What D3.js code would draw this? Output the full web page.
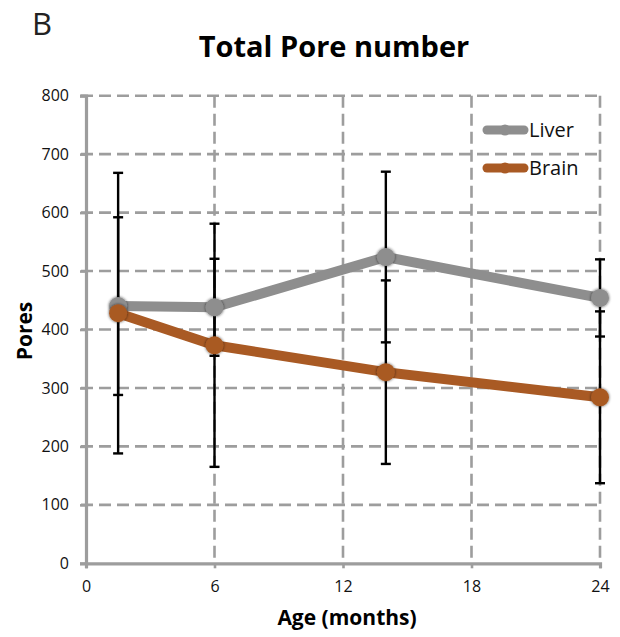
<!DOCTYPE html>
<html><head><meta charset="utf-8">
<script src="https://cdn.jsdelivr.net/npm/d3@7"></script>
<style>body{margin:0;background:#fff}svg{display:block}</style>
</head><body>
<script>
const ages = [1.5, 6, 14, 24];
const liver = [440, 438, 524, 454];
const liverErr = [152, 83, 146, 66];
const brain = [428, 373, 327, 284];
const brainErr = [240, 208, 157, 147];
const xTicks = [0, 6, 12, 18, 24];
const yTicks = [0, 100, 200, 300, 400, 500, 600, 700, 800];
const seriesNames = ["Liver", "Brain"];
const colors = ["#8e8e8e", "#a95a24"];

const W = 620, H = 637;
const font = "'Open Sans', 'Noto Sans', sans-serif";
const svg = d3.select("body").append("svg").attr("width", W).attr("height", H);
const x = d3.scaleLinear().domain([0, 24]).range([86, 600]);
const y = d3.scaleLinear().domain([0, 800]).range([563.3, 95.7]);

const defs = svg.append("defs");
const f = defs.append("filter").attr("id", "sh").attr("x", "-50%").attr("y", "-50%").attr("width", "200%").attr("height", "200%");
f.append("feGaussianBlur").attr("in", "SourceAlpha").attr("stdDeviation", 1.6).attr("result", "b");
f.append("feComponentTransfer").attr("in","b").attr("result","o2").append("feFuncA").attr("type","linear").attr("slope",0.7);
const m = f.append("feMerge"); m.append("feMergeNode").attr("in", "o2"); m.append("feMergeNode").attr("in", "SourceGraphic");

const gridCol = "#9d9d9d";
// horizontal grid
svg.append("g").selectAll("line").data(yTicks.filter(d => d > 0)).join("line")
  .attr("x1", 81).attr("x2", 600).attr("y1", d => y(d)).attr("y2", d => y(d))
  .attr("stroke", gridCol).attr("stroke-width", 2.6).attr("stroke-dasharray", "12,6");
// vertical grid
svg.append("g").selectAll("line").data(xTicks.filter(d => d > 0)).join("line")
  .attr("x1", d => x(d)).attr("x2", d => x(d)).attr("y1", y(800)).attr("y2", y(0))
  .attr("stroke", gridCol).attr("stroke-width", 2.6).attr("stroke-dasharray", "12,6");

// axes
const xAxis = svg.append("g").attr("transform", `translate(0,${y(0)})`)
  .call(d3.axisBottom(x).tickValues(xTicks).tickSize(5).tickPadding(12));
const yAxis = svg.append("g").attr("transform", `translate(${x(0)},0)`)
  .call(d3.axisLeft(y).tickValues(yTicks).tickSize(6).tickPadding(11));
[xAxis, yAxis].forEach(a => {
  a.select(".domain").attr("stroke", gridCol).attr("stroke-width", 3.2);
  a.selectAll(".tick line").attr("stroke", gridCol).attr("stroke-width", 2.6);
  a.selectAll("text").attr("font-family", font).attr("font-size", 16).attr("fill", "#111");
});

// error bars
const errData = [];
ages.forEach((a, i) => {
  errData.push({a, v: liver[i], e: liverErr[i]});
  errData.push({a, v: brain[i], e: brainErr[i]});
});
const eg = svg.append("g").attr("stroke", "#000").attr("stroke-width", 2.4);
eg.selectAll(".v").data(errData).join("line")
  .attr("x1", d => x(d.a)).attr("x2", d => x(d.a))
  .attr("y1", d => y(d.v + d.e)).attr("y2", d => y(d.v - d.e));
eg.selectAll(".c1").data(errData).join("line")
  .attr("x1", d => x(d.a) - 5).attr("x2", d => x(d.a) + 5)
  .attr("y1", d => y(d.v + d.e)).attr("y2", d => y(d.v + d.e));
eg.selectAll(".c2").data(errData).join("line")
  .attr("x1", d => x(d.a) - 5).attr("x2", d => x(d.a) + 5)
  .attr("y1", d => y(d.v - d.e)).attr("y2", d => y(d.v - d.e));

// series
const line = d3.line().x(d => x(d[0])).y(d => y(d[1]));
[liver, brain].forEach((vals, si) => {
  const pts = ages.map((a, i) => [a, vals[i]]);
  svg.append("path").datum(pts).attr("d", line).attr("fill", "none")
    .attr("stroke", colors[si]).attr("stroke-width", 10).attr("stroke-linejoin", "round");
  svg.append("g").selectAll("circle").data(pts).join("circle")
    .attr("cx", d => x(d[0])).attr("cy", d => y(d[1])).attr("r", 9)
    .attr("fill", colors[si]).attr("filter", "url(#sh)");
});

// legend
seriesNames.forEach((n, i) => {
  const ly = 130 + i * 38;
  const g = svg.append("g");
  g.append("line").attr("x1", 487).attr("x2", 524).attr("y1", ly).attr("y2", ly)
    .attr("stroke", colors[i]).attr("stroke-width", 9).attr("stroke-linecap", "round");
  g.append("circle").attr("cx", 505).attr("cy", ly).attr("r", 5.5).attr("fill", colors[i]);
  g.append("text").attr("x", 529).attr("y", ly + 7).text(n)
    .attr("font-family", font).attr("font-size", 20).attr("fill", "#111");
});

// titles
svg.append("text").attr("x", 32).attr("y", 35).text("B")
  .attr("font-family", font).attr("font-size", 31).attr("fill", "#222");
svg.append("text").attr("x", 334).attr("y", 57).attr("text-anchor", "middle").text("Total Pore number")
  .attr("font-family", font).attr("font-size", 29).attr("font-weight", "bold").attr("fill", "#000");
svg.append("text").attr("x", 347).attr("y", 625).attr("text-anchor", "middle").text("Age (months)")
  .attr("font-family", font).attr("font-size", 21).attr("font-weight", "bold").attr("fill", "#000");
svg.append("text").attr("transform", "translate(32,331) rotate(-90)").attr("text-anchor", "middle").text("Pores")
  .attr("font-family", font).attr("font-size", 21).attr("font-weight", "bold").attr("fill", "#000");
</script>
</body></html>
